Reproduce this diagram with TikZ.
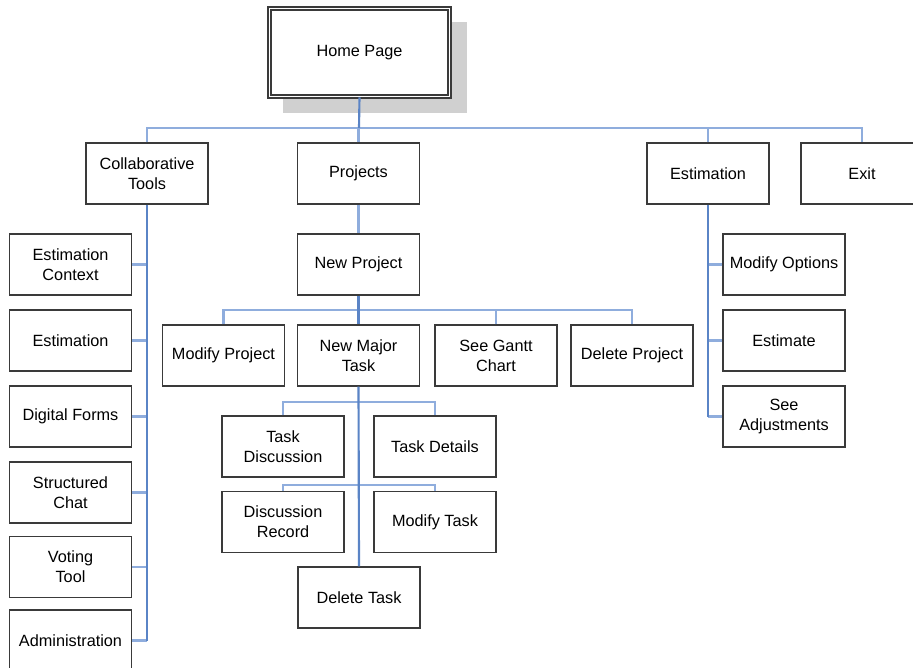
\documentclass[tikz,border=0pt]{standalone}
\usepackage{fontspec}
\setmainfont{Liberation Sans}
\definecolor{trunkc}{HTML}{5A84C6}
\definecolor{branchc}{HTML}{8FADDD}
\definecolor{boxc}{HTML}{3A3A3A}
\definecolor{shadowc}{HTML}{D0D0D0}
\tikzset{
  pg/.style={draw=boxc, line width=1pt, fill=white, minimum width=91.5pt, minimum height=45.75pt,
     inner sep=1pt, align=center, font=\fontsize{12.2}{15}\selectfont},
  trunk/.style={draw=trunkc, line width=1.6pt},
  branch/.style={draw=branchc, line width=1.6pt},
}
\begin{document}
\begin{tikzpicture}[x=0.75pt,y=-0.75pt]
\useasboundingbox (0,0) rectangle (913,667);
\fill[white] (0,0) rectangle (913,667);
\begin{scope}
\clip (0,0) rectangle (913,667);
% shadow of home
\fill[shadowc] (283,22) rectangle (467,113);
\node[pg, draw=boxc, line width=1.2pt, double=white, double distance=1.3pt, minimum width=135pt, minimum height=66pt] (home) at (359.5,52.5) {Home Page};
% top level
\node[pg] (ct) at (147,173.5) {Collaborative\\Tools};
\node[pg] (proj) at (358.5,173.5) {Projects};
\node[pg] (est) at (708,173.5) {Estimation};
\node[pg] (exit) at (862,173.5) {Exit};
\coordinate (bus1) at (359,128);
% left column
\node[pg] (ec) at (70.5,264.5) {Estimation\\Context};
\node[pg] (es) at (70.5,340.5) {Estimation};
\node[pg] (df) at (70.5,416.5) {Digital Forms};
\node[pg] (sc) at (70.5,492.5) {Structured\\Chat};
\node[pg] (vt) at (70.5,567) {Voting\\Tool};
\node[pg] (ad) at (70.5,640.5) {Administration};
% projects
\node[pg] (np) at (358.5,264.5) {New Project};
\coordinate (bus2) at (359,310);
\node[pg] (mp) at (223.5,355.5) {Modify Project};
\node[pg] (nmt) at (358.5,355.5) {New Major\\Task};
\node[pg] (gc) at (496,355.5) {See Gantt\\Chart};
\node[pg] (dp) at (632,355.5) {Delete Project};
\coordinate (bus3) at (359,402);
\coordinate (bus4) at (359,485);
\node[pg] (td) at (283,446.5) {Task\\Discussion};
\node[pg] (tdet) at (435,446.5) {Task Details};
\node[pg] (dr) at (283,522) {Discussion\\Record};
\node[pg] (mt) at (435,522) {Modify Task};
\node[pg] (dt) at (359,597.5) {Delete Task};
% estimation
\node[pg] (mo) at (784,264.5) {Modify Options};
\node[pg] (ee) at (784,340.5) {Estimate};
\node[pg] (sa) at (784,416.5) {See\\Adjustments};
% connectors
\draw[branch] (ct.north) -- (ct.north |- bus1) -- (exit.north |- bus1) -- (exit.north);
\draw[branch] (proj.north) -- (proj.north |- bus1);
\draw[branch] (est.north) -- (est.north |- bus1);
\draw[trunk] (home.south) -- (bus1);
% collaborative
\draw[branch] (ec.east) -- (ec.east -| ct.south);
\draw[branch] (es.east) -- (es.east -| ct.south);
\draw[branch] (df.east) -- (df.east -| ct.south);
\draw[branch] (sc.east) -- (sc.east -| ct.south);
\draw[branch] (vt.east) -- (vt.east -| ct.south);
\draw[branch] (ad.east) -- (ad.east -| ct.south);
\draw[trunk] (ct.south) -- (ct.south |- ad.east);
% projects
\draw[branch] (proj.south) -- (np.north);
\draw[branch] (mp.north) -- (mp.north |- bus2) -- (dp.north |- bus2) -- (dp.north);
\draw[branch] (gc.north) -- (gc.north |- bus2);
\draw[trunk] (np.south) -- (nmt.north);
\draw[branch] (td.north) -- (td.north |- bus3) -- (tdet.north |- bus3) -- (tdet.north);
\draw[branch] (dr.north) -- (dr.north |- bus4) -- (mt.north |- bus4) -- (mt.north);
\draw[trunk] (nmt.south) -- (dt.north);
% estimation
\draw[branch] (mo.west) -- (mo.west -| est.south);
\draw[branch] (ee.west) -- (ee.west -| est.south);
\draw[branch] (sa.west) -- (sa.west -| est.south);
\draw[trunk] (est.south) -- (est.south |- sa.west);
\end{scope}
\end{tikzpicture}
\end{document}
